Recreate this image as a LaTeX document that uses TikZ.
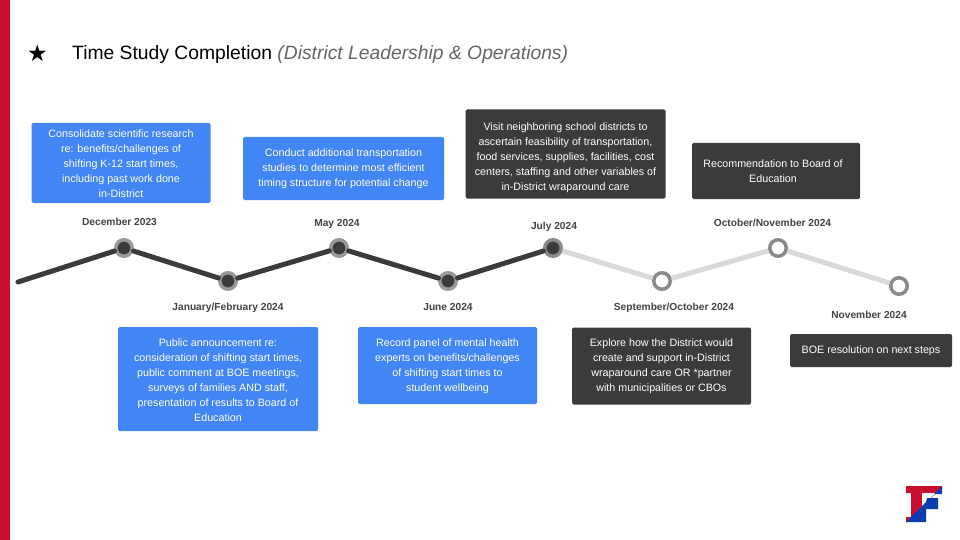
\documentclass[tikz,border=0pt]{standalone}
\usepackage{fontspec}
\setmainfont{Liberation Sans}
\newfontfamily\symfont{DejaVu Sans}
\definecolor{bluebox}{HTML}{4285F4}
\definecolor{darkbox}{HTML}{3B3B3B}
\definecolor{redbar}{HTML}{C8102E}
\definecolor{lightline}{HTML}{D9D9D9}
\definecolor{ringgrey}{HTML}{8A8A8A}
\definecolor{ringdone}{HTML}{999999}
\definecolor{labelgrey}{HTML}{434343}
\definecolor{logoblue}{HTML}{0B3CB0}
\definecolor{subgrey}{HTML}{666666}
\newcommand\pd[1]{\mbox{}\\[#1]}
\tikzset{
  x=1pt,y=-1pt,
  bx/.style={rounded corners=1.5pt,text=white,align=center,font=\fontsize{10.7}{15}\selectfont,inner sep=0pt},
  bluecard/.style={bx,fill=bluebox},
  darkcard/.style={bx,fill=darkbox},
  datelabel/.style={anchor=base,font=\fontsize{10.2}{12}\selectfont\bfseries,text=labelgrey,inner sep=0pt},
  done/.style={circle,fill=darkbox,draw=ringdone,line width=3.5pt,minimum size=16.5pt,inner sep=0pt},
  todo/.style={circle,fill=white,draw=ringgrey,line width=3.5pt,minimum size=16.5pt,inner sep=0pt},
  darkline/.style={draw=darkbox,line width=5pt,line cap=round},
  lightpath/.style={draw=lightline,line width=5pt},
}
\begin{document}
\begin{tikzpicture}
\useasboundingbox (0,0) rectangle (960,540);
\fill[white] (0,0) rectangle (960,540);
\fill[redbar] (0,0) rectangle (10,540);
% title
\node[inner sep=0pt,font=\symfont\fontsize{23}{26}\selectfont] (star) at (37.5,53) {★};
\node[anchor=west,inner sep=0pt,font=\fontsize{19.3}{23}\selectfont] (title) at (72,55) {Time Study Completion \textcolor{subgrey}{\itshape(District Leadership \& Operations)}};
% timeline
\coordinate (start) at (18,282);
\node[done] (n1) at (124,248) {};
\node[done] (n2) at (228,281) {};
\node[done] (n3) at (339,248) {};
\node[done] (n4) at (448,281) {};
\node[done,draw=ringgrey] (n5) at (553,248) {};
\node[todo] (n6) at (662,281) {};
\node[todo] (n7) at (778,248) {};
\node[todo] (n8) at (899,286) {};
\draw[darkline] (start) -- (n1);
\draw[darkline] (n1) -- (n2);
\draw[darkline] (n2) -- (n3);
\draw[darkline] (n3) -- (n4);
\draw[darkline] (n4) -- (n5);
\draw[lightpath] (n5) -- (n6);
\draw[lightpath] (n6) -- (n7);
\draw[lightpath] (n7) -- (n8);
% date labels
\node[datelabel] (d1) at (119.5,225.5) {December 2023};
\node[datelabel] (d2) at (228,310.5) {January/February 2024};
\node[datelabel] (d3) at (337,226) {May 2024};
\node[datelabel] (d4) at (448,310.5) {June 2024};
\node[datelabel] (d5) at (554,229) {July 2024};
\node[datelabel] (d6) at (674,310) {September/October 2024};
\node[datelabel] (d7) at (772.5,226) {October/November 2024};
\node[datelabel] (d8) at (869,318) {November 2024};
% cards
\node[bluecard,minimum width=179pt,minimum height=80pt] (c1) at (121,163) {\pd{-5pt}Consolidate scientific research\\re: benefits/challenges of\\shifting K-12 start times,\\including past work done\\in-District};
\node[bluecard,minimum width=201pt,minimum height=63pt] (c2) at (343.5,168.5) {Conduct additional transportation\\studies to determine most efficient\\timing structure for potential change};
\node[darkcard,minimum width=200pt,minimum height=89pt] (c3) at (565.5,154) {\pd{0pt}Visit neighboring school districts to\\ascertain feasibility of transportation,\\food services, supplies, facilities, cost\\centers, staffing and other variables of\\in-District wraparound care};
\node[darkcard,minimum width=168pt,minimum height=56pt] (c4) at (776,171) {\pd{-7pt}Recommendation to Board of\hspace*{6pt}\mbox{}\\Education\hspace*{6pt}\mbox{}};
\node[bluecard,minimum width=200pt,minimum height=104pt] (c5) at (218,379) {\pd{-5pt}Public announcement re:\\consideration of shifting start times,\\public comment at BOE meetings,\\surveys of families AND staff,\\presentation of results to Board of\\Education};
\node[bluecard,minimum width=179pt,minimum height=77pt] (c6) at (447.5,365.5) {\pd{-6pt}Record panel of mental health\\experts on benefits/challenges\\of shifting start times to\\student wellbeing};
\node[darkcard,minimum width=179pt,minimum height=77pt] (c7) at (661.5,366) {\pd{-6pt}Explore how the District would\\create and support in-District\\wraparound care OR *partner\\with municipalities or CBOs};
\node[darkcard,minimum width=162pt,minimum height=33pt] (c8) at (871,350.5) {BOE resolution on next steps};
% logo
\fill[redbar] (906,486) -- (942,486) -- (942,487) -- (907,522) -- (906,522) -- (906,517) -- (911,517) -- (911,493) -- (906,493) -- cycle;
\fill[white] (922,493) -- (935.7,493) -- (922,506.7) -- cycle;
\fill[logoblue] (942,486) -- (942,494) -- (934,494) -- cycle;
\fill[logoblue] (927,498) -- (938,498) -- (938,509) -- (926,509) -- (926,522) -- (906,522) -- (926,502) -- cycle;
\end{tikzpicture}
\end{document}
